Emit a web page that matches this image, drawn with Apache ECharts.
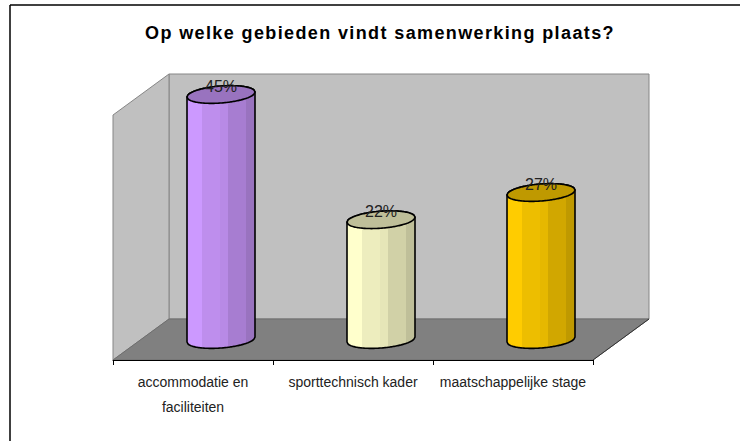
<!DOCTYPE html>
<html>
<head>
<meta charset="utf-8">
<style>
    html, body { margin: 0; background: #fff; }
    #chart { width: 740px; height: 441px; }
    /* canvas text has no tracking, the title needs it */
    #chart svg text[style*="bold"] { letter-spacing: 1.38px; }
</style>
<script src="https://cdn.jsdelivr.net/npm/echarts@6/dist/echarts.min.js"></script>
</head>
<body>
<div id="chart"></div>
<script>
    const categories = ['accommodatie en\nfaciliteiten', 'sporttechnisch kader', 'maatschappelijke stage']
    const percentages = [45, 22, 27]
    const barColors = ['#CC99FF', '#FFFFCC', '#FFCC00']

    // depth of the fake 3d box, in pixels
    const depthX = 56
    const depthY = -41
    const barWidth = 68
    // vertical bands of the cylinder: width in px, brightness
    const bands = [[15, 1], [18, 0.93], [8, 0.9], [18, 0.82], [9, 0.75]]

    function shade(hex, f) {
        const n = parseInt(hex.slice(1), 16)
        const c = [n >> 16, (n >> 8) & 255, n & 255].map(v => Math.round(v * f))
        return 'rgb(' + c.join(',') + ')'
    }

    function renderBox(params) {
        const g = params.coordSys
        const x0 = g.x, x1 = g.x + g.width, top = g.y, bot = g.y + g.height
        const poly = (points, fill, stroke) => ({
            type: 'polygon',
            shape: { points },
            style: { fill, stroke, lineWidth: 1 }
        })
        return {
            type: 'group',
            children: [
                poly([[x0 + depthX, top + depthY], [x1 + depthX, top + depthY], [x1 + depthX, bot + depthY], [x0 + depthX, bot + depthY]], '#C0C0C0', '#868686'),
                poly([[x0, top], [x0 + depthX, top + depthY], [x0 + depthX, bot + depthY], [x0, bot]], '#C0C0C0', '#868686'),
                poly([[x0, bot], [x1, bot], [x1 + depthX, bot + depthY], [x0 + depthX, bot + depthY]], '#808080', '#6E6E6E'),
                { type: 'line', shape: { x1: x1, y1: bot, x2: x1 + depthX, y2: bot + depthY }, style: { stroke: '#333', lineWidth: 1 } }
            ]
        }
    }

    function renderBar(params, api) {
        const base = api.coord([api.value(0), 0])
        const head = api.coord([api.value(0), api.value(1)])
        const cx = base[0] + depthX / 2
        const yBase = base[1] + depthY / 2
        const yTop = head[1] + depthY / 2
        const rx = barWidth / 2
        const color = barColors[params.dataIndex]

        // slanted ellipse edge, side = 1 lower half, -1 upper half
        const edge = (px, cy, side) => {
            const t = Math.max(-1, Math.min(1, (px - cx) / rx))
            return cy - 2.5 * t + side * 8.5 * Math.sqrt(1 - t * t)
        }
        const arc = (from, to, cy, side) => {
            const pts = []
            const step = from < to ? 1 : -1
            for (let px = from; step > 0 ? px <= to : px >= to; px += step) pts.push([px, edge(px, cy, side)])
            return pts
        }

        const children = []
        let x = cx - rx
        bands.forEach(b => {
            const next = x + b[0]
            children.push({
                type: 'polygon',
                shape: { points: arc(x, next, yTop, 1).concat(arc(next, x, yBase, 1)) },
                style: { fill: shade(color, b[1]) }
            })
            x = next
        })
        // outline
        children.push({
            type: 'polygon',
            shape: { points: arc(cx - rx, cx + rx, yBase, 1).concat(arc(cx + rx, cx - rx, yTop, -1)) },
            style: { fill: 'none', stroke: '#000', lineWidth: 1.6 }
        })
        // top cap
        children.push({
            type: 'polygon',
            shape: { points: arc(cx - rx, cx + rx, yTop, 1).concat(arc(cx + rx, cx - rx, yTop, -1)) },
            style: { fill: shade(color, 0.75), stroke: '#000', lineWidth: 1.6 }
        })
        children.push({
            type: 'text',
            style: {
                x: cx,
                y: yTop - 8,
                text: api.value(1) + '%',
                fill: '#222',
                font: '16px "Liberation Sans"',
                textAlign: 'center',
                textVerticalAlign: 'middle'
            }
        })
        return { type: 'group', children }
    }

    const chart = echarts.init(document.getElementById('chart'), null, { renderer: 'svg' })
    chart.setOption({
        animation: false,
        backgroundColor: '#fff',
        title: {
            text: 'Op welke gebieden vindt samenwerking plaats?',
            left: 375,
            top: 19,
            textAlign: 'center',
            textStyle: { color: '#000', fontFamily: 'Liberation Sans', fontSize: 18, fontWeight: 'bold' }
        },
        // only the top and left edge of the frame are in the picture
        graphic: [
            { type: 'line', shape: { x1: 10, y1: 5, x2: 10, y2: 441 }, style: { stroke: '#000', lineWidth: 1.5 } },
            { type: 'line', shape: { x1: 10, y1: 5, x2: 740, y2: 5 }, style: { stroke: '#000', lineWidth: 1.5 } }
        ],
        grid: { left: 113, top: 115, width: 480, height: 245 },
        xAxis: {
            type: 'category',
            data: categories,
            z: 5,
            axisLine: { lineStyle: { color: '#000', width: 1 } },
            axisTick: { show: true, length: 5, alignWithLabel: false, lineStyle: { color: '#000' } },
            axisLabel: { color: '#222', fontFamily: 'Liberation Sans', fontSize: 14, lineHeight: 25, margin: 9, interval: 0 }
        },
        yAxis: { type: 'value', min: 0, max: 45, show: false },
        series: [
            { type: 'custom', name: 'box', renderItem: renderBox, data: [0], silent: true, z: 1 },
            {
                type: 'custom',
                name: 'samenwerking',
                renderItem: renderBar,
                data: percentages.map((v, i) => [i, v]),
                encode: { x: 0, y: 1 },
                z: 2
            }
        ]
    })
</script>
</body>
</html>
